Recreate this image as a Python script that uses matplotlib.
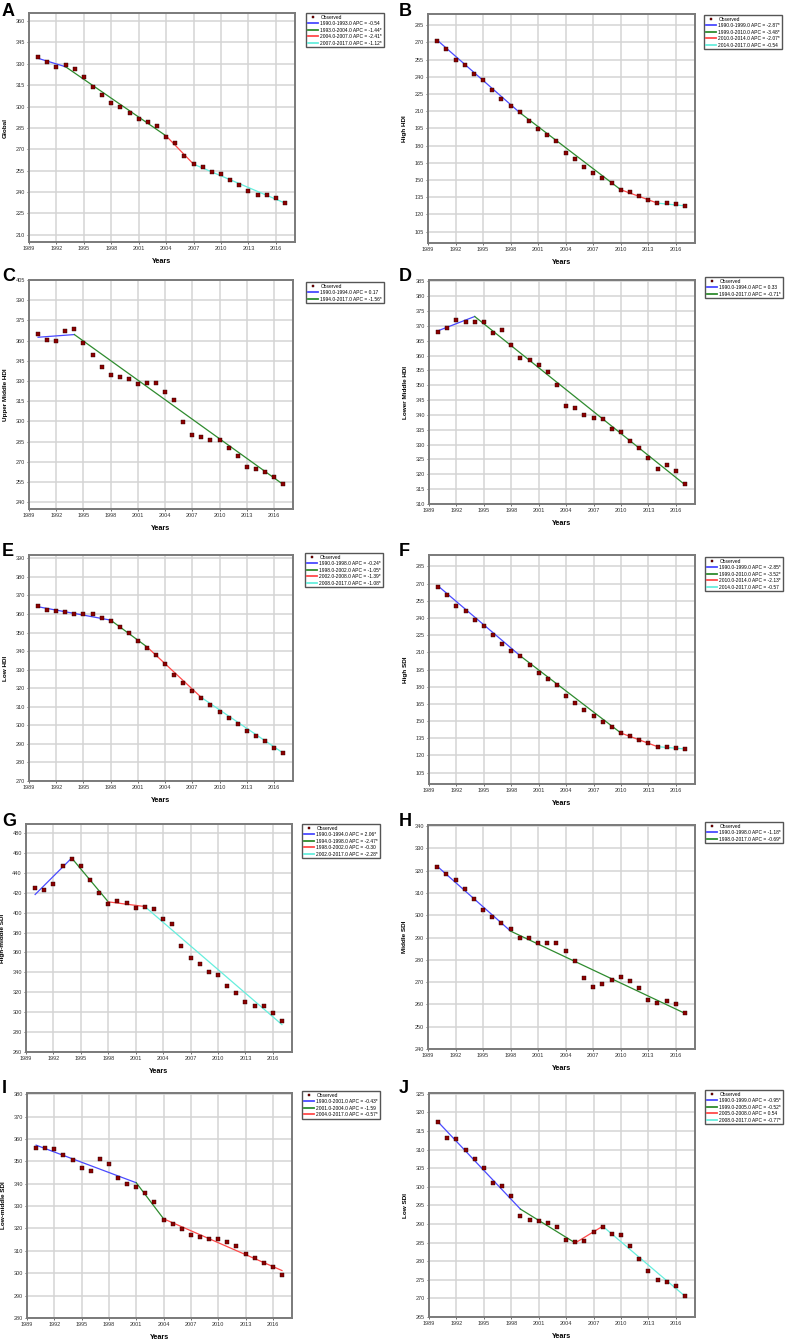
import matplotlib

matplotlib.use("Agg")
import matplotlib.pyplot as plt
from matplotlib.lines import Line2D
from matplotlib.ticker import MultipleLocator

plt.rcParams["font.family"] = ["Liberation Sans", "DejaVu Sans"]

YEARS = [1990, 1991, 1992, 1993, 1994, 1995, 1996, 1997, 1998, 1999,
         2000, 2001, 2002, 2003, 2004, 2005, 2006, 2007, 2008, 2009,
         2010, 2011, 2012, 2013, 2014, 2015, 2016, 2017]
X_TICKS = [1989, 1992, 1995, 1998, 2001, 2004, 2007, 2010, 2013, 2016]

# A - Global
GLOBAL = [335.0, 331.0, 327.9, 328.9, 326.5, 320.9, 313.8, 308.1, 302.5, 299.4,
          295.7, 291.4, 289.1, 286.5, 278.7, 274.2, 265.3, 259.6, 257.7, 254.4,
          252.6, 248.8, 245.3, 240.6, 238.2, 238.2, 236.1, 232.5]
GLOBAL_JP_YEARS = [1990, 1993, 2004, 2007, 2017]
GLOBAL_JP_VALUES = [333.8, 327.9, 279.4, 259.6, 232.3]
GLOBAL_LABELS = ["1990.0-1993.0 APC = -0.54", "1993.0-2004.0 APC = -1.44*",
                 "2004.0-2007.0 APC = -2.41*", "2007.0-2017.0 APC = -1.12*"]

# B - High HDI
HIGH_HDI = [271.3, 264.0, 254.9, 250.2, 242.0, 236.8, 228.3, 220.4, 214.6, 209.3,
            201.4, 194.7, 188.8, 183.9, 173.9, 168.4, 161.6, 156.4, 151.7, 147.0,
            141.5, 139.1, 135.9, 132.7, 129.5, 129.5, 128.6, 127.7]
HIGH_HDI_JP_YEARS = [1990, 1999, 2010, 2014, 2017]
HIGH_HDI_JP_VALUES = [271.9, 208.7, 141.5, 129.8, 127.4]
HIGH_HDI_LABELS = ["1990.0-1999.0 APC = -2.87*", "1999.0-2010.0 APC = -3.48*",
                   "2010.0-2014.0 APC = -2.07*", "2014.0-2017.0 APC = -0.54"]

# C - Upper Middle HDI
UPPER_MID_HDI = [364.8, 360.5, 360.0, 367.5, 368.5, 358.6, 349.6, 340.7, 334.2, 333.3,
                 331.3, 327.8, 328.5, 328.5, 321.6, 315.9, 299.8, 290.3, 288.1, 286.4,
                 286.4, 280.1, 274.2, 266.0, 264.5, 262.8, 259.1, 253.6]
UPPER_MID_HDI_JP_YEARS = [1990, 1994, 2017]
UPPER_MID_HDI_JP_VALUES = [362.5, 364.5, 253.3]
UPPER_MID_HDI_LABELS = ["1990.0-1994.0 APC = 0.17", "1994.0-2017.0 APC = -1.56*"]

# D - Lower Middle HDI
LOWER_MID_HDI = [368.1, 369.3, 372.1, 371.5, 371.3, 371.2, 367.8, 368.7, 363.6, 359.3,
                 358.7, 356.8, 354.5, 350.2, 343.0, 342.4, 339.9, 339.0, 338.8, 335.3,
                 334.4, 331.2, 328.9, 325.4, 321.8, 323.3, 321.1, 316.6]
LOWER_MID_HDI_JP_YEARS = [1990, 1994, 2017]
LOWER_MID_HDI_JP_VALUES = [368.4, 373.2, 316.5]
LOWER_MID_HDI_LABELS = ["1990.0-1994.0 APC = 0.33", "1994.0-2017.0 APC = -0.71*"]

# E - Low HDI
LOW_HDI = [364.5, 362.1, 361.4, 361.0, 360.0, 359.8, 359.8, 357.6, 356.0, 352.8,
           349.9, 345.4, 341.6, 337.7, 332.8, 327.2, 322.9, 318.6, 314.8, 311.2,
           307.3, 303.7, 300.8, 297.2, 294.0, 291.3, 288.0, 285.1]
LOW_HDI_JP_YEARS = [1990, 1998, 2002, 2008, 2017]
LOW_HDI_JP_VALUES = [363.9, 356.7, 342.3, 315.0, 285.1]
LOW_HDI_LABELS = ["1990.0-1998.0 APC = -0.24*", "1998.0-2002.0 APC = -1.05*",
                  "2002.0-2008.0 APC = -1.39*", "2008.0-2017.0 APC = -1.08*"]

# F - High SDI
HIGH_SDI = [267.3, 259.7, 250.7, 246.1, 238.5, 233.0, 224.8, 217.2, 211.4, 206.5,
            198.6, 191.6, 186.4, 181.2, 171.5, 166.0, 159.3, 154.1, 149.4, 144.5,
            139.2, 136.6, 133.7, 130.8, 127.3, 127.0, 126.1, 125.6]
HIGH_SDI_JP_YEARS = [1990, 1999, 2010, 2014, 2017]
HIGH_SDI_JP_VALUES = [267.9, 206.8, 139.5, 127.6, 125.6]
HIGH_SDI_LABELS = ["1990.0-1999.0 APC = -2.85*", "1999.0-2010.0 APC = -3.52*",
                   "2010.0-2014.0 APC = -2.13*", "2014.0-2017.0 APC = -0.57"]

# G - High-middle SDI
HIGH_MID_SDI = [424.6, 422.9, 428.3, 446.7, 454.1, 446.4, 433.0, 419.2, 409.1, 412.1,
                409.5, 404.4, 405.4, 404.1, 394.0, 388.3, 366.8, 354.4, 348.7, 340.3,
                337.2, 326.5, 319.1, 310.4, 306.0, 305.7, 299.3, 291.6]
HIGH_MID_SDI_JP_YEARS = [1990, 1994, 1998, 2002, 2017]
HIGH_MID_SDI_JP_VALUES = [418.2, 454.8, 410.8, 406.1, 287.5]
HIGH_MID_SDI_LABELS = ["1990.0-1994.0 APC = 2.06*", "1994.0-1998.0 APC = -2.47*",
                       "1998.0-2002.0 APC = -0.30", "2002.0-2017.0 APC = -2.28*"]

# H - Middle SDI
MID_SDI = [321.7, 318.4, 315.6, 311.8, 307.5, 302.2, 299.4, 296.7, 293.8, 289.9,
           289.6, 287.4, 287.4, 287.4, 283.8, 279.6, 271.9, 267.7, 269.2, 271.0,
           272.4, 270.6, 267.4, 262.2, 260.8, 261.6, 260.2, 256.2]
MID_SDI_JP_YEARS = [1990, 1998, 2017]
MID_SDI_JP_VALUES = [322.0, 292.9, 256.0]
MID_SDI_LABELS = ["1990.0-1998.0 APC = -1.18*", "1998.0-2017.0 APC = -0.69*"]

# I - Low-middle SDI
LOW_MID_SDI = [355.8, 356.0, 355.7, 353.0, 350.7, 346.9, 345.7, 350.9, 348.8, 342.5,
               340.0, 338.4, 336.0, 331.9, 323.6, 321.8, 319.7, 317.2, 316.1, 315.5,
               315.5, 314.0, 312.2, 308.4, 306.6, 304.5, 302.8, 299.4]
LOW_MID_SDI_JP_YEARS = [1990, 2001, 2004, 2017]
LOW_MID_SDI_JP_VALUES = [357.2, 340.4, 324.3, 301.2]
LOW_MID_SDI_LABELS = ["1990.0-2001.0 APC = -0.43*", "2001.0-2004.0 APC = -1.59",
                      "2004.0-2017.0 APC = -0.57*"]

# J - Low SDI
LOW_SDI = [317.3, 313.0, 312.9, 309.9, 307.4, 305.1, 301.1, 300.2, 297.4, 292.2,
           291.2, 290.7, 290.3, 289.3, 285.7, 285.1, 285.5, 287.8, 289.1, 287.2,
           287.1, 284.0, 280.6, 277.3, 275.0, 274.3, 273.2, 270.6]
LOW_SDI_JP_YEARS = [1990, 1999, 2005, 2008, 2017]
LOW_SDI_JP_VALUES = [317.4, 294.0, 284.9, 289.4, 270.6]
LOW_SDI_LABELS = ["1990.0-1999.0 APC = -0.95*", "1999.0-2005.0 APC = -0.52*",
                  "2005.0-2008.0 APC = 0.54", "2008.0-2017.0 APC = -0.77*"]

PANELS = [
    ("A", "Global", GLOBAL, GLOBAL_JP_YEARS, GLOBAL_JP_VALUES, GLOBAL_LABELS),
    ("B", "High HDI", HIGH_HDI, HIGH_HDI_JP_YEARS, HIGH_HDI_JP_VALUES, HIGH_HDI_LABELS),
    ("C", "Upper Middle HDI", UPPER_MID_HDI, UPPER_MID_HDI_JP_YEARS,
     UPPER_MID_HDI_JP_VALUES, UPPER_MID_HDI_LABELS),
    ("D", "Lower Middle HDI", LOWER_MID_HDI, LOWER_MID_HDI_JP_YEARS,
     LOWER_MID_HDI_JP_VALUES, LOWER_MID_HDI_LABELS),
    ("E", "Low HDI", LOW_HDI, LOW_HDI_JP_YEARS, LOW_HDI_JP_VALUES, LOW_HDI_LABELS),
    ("F", "High SDI", HIGH_SDI, HIGH_SDI_JP_YEARS, HIGH_SDI_JP_VALUES, HIGH_SDI_LABELS),
    ("G", "High-middle SDI", HIGH_MID_SDI, HIGH_MID_SDI_JP_YEARS,
     HIGH_MID_SDI_JP_VALUES, HIGH_MID_SDI_LABELS),
    ("H", "Middle SDI", MID_SDI, MID_SDI_JP_YEARS, MID_SDI_JP_VALUES, MID_SDI_LABELS),
    ("I", "Low-middle SDI", LOW_MID_SDI, LOW_MID_SDI_JP_YEARS,
     LOW_MID_SDI_JP_VALUES, LOW_MID_SDI_LABELS),
    ("J", "Low SDI", LOW_SDI, LOW_SDI_JP_YEARS, LOW_SDI_JP_VALUES, LOW_SDI_LABELS),
]

# y-axis range and tick step per panel
Y_AXES = {
    "A": (205, 365.6, 15), "B": (95, 294.7, 15), "C": (235, 405, 15),
    "D": (310, 385.5, 5), "E": (270, 391.8, 10), "F": (95, 295, 15),
    "G": (260, 489, 20), "H": (240, 340.5, 10), "I": (280, 380.5, 10),
    "J": (265, 325.2, 5),
}

# pixel boxes: axes (left, top, right, bottom), legend top-left, letter top-left
LAYOUT = {
    "A": ((29, 13, 295, 242), (306, 13), (2, 3)),
    "B": ((428, 14, 695, 243), (704, 15), (399, 3)),
    "C": ((29, 280, 293, 509), (306, 282), (2, 268)),
    "D": ((429, 280, 695, 504), (705, 277), (399, 268)),
    "E": ((29, 555, 293, 781), (305, 553), (2, 543)),
    "F": ((429, 555, 695, 784), (705, 557), (399, 543)),
    "G": ((26, 824, 292, 1052), (302, 824), (2, 813)),
    "H": ((428, 825, 695, 1049), (705, 822), (399, 813)),
    "I": ((27, 1093, 292, 1318), (302, 1091), (2, 1080)),
    "J": ((429, 1093, 695, 1317), (705, 1090), (399, 1080)),
}

SEG_COLORS = ["#4a4aff", "#2e8b2e", "#ff4a4a", "#66eedd"]
W, H = 786, 1339

fig = plt.figure(figsize=(W / 100, H / 100), dpi=100)

for letter, ylabel, obs, jp_years, jp_vals, labels in PANELS:
    (l, t, r, b), (lx, ly), (tx, ty) = LAYOUT[letter]
    ax = fig.add_axes([l / W, 1 - b / H, (r - l) / W, (b - t) / H])
    ymin, ymax, ystep = Y_AXES[letter]

    handles = [Line2D([], [], ls="none", marker="s", ms=2.0, mfc="#8b0000",
                      mec="#2a0000", mew=0.3, label="Observed")]
    for i, lab in enumerate(labels):
        ax.plot(jp_years[i:i + 2], jp_vals[i:i + 2], color=SEG_COLORS[i], lw=0.9, zorder=3)
        handles.append(Line2D([], [], color=SEG_COLORS[i], lw=1.3, label=lab))
    ax.plot(YEARS, obs, ls="none", marker="s", ms=2.2, mfc="#8b0000",
            mec="#2a0000", mew=0.3, zorder=4)

    ax.set_xlim(1989, 2018.1)
    ax.set_ylim(ymin, ymax)
    ax.set_xticks(X_TICKS)
    ax.yaxis.set_major_locator(MultipleLocator(ystep))
    ax.tick_params(labelsize=4.0, length=1.5, width=0.5, pad=1.5, colors="#333333")
    ax.grid(True, color="#d4d4d4", lw=1.1)
    ax.set_axisbelow(True)
    for sp in ax.spines.values():
        sp.set_color("#7a7a7a")
        sp.set_linewidth(1.4)

    ax.set_ylabel(ylabel, fontsize=4.6, fontweight="bold")
    ax.yaxis.set_label_coords(-21 / (r - l), 0.5)
    ax.set_xlabel("Years", fontsize=5.2, fontweight="bold")
    ax.xaxis.set_label_coords(0.5, -16 / (b - t))

    fig.legend(handles=handles, loc="upper left",
               bbox_to_anchor=(lx / W, 1 - ly / H), fontsize=3.5,
               frameon=True, fancybox=False, edgecolor="#555555",
               framealpha=1, borderpad=0.35, labelspacing=0.3,
               handlelength=2.2, handletextpad=0.4, borderaxespad=0)

    fig.text(tx / W, 1 - ty / H, letter, fontsize=13, fontweight="bold",
             ha="left", va="top")

fig.savefig("out.png", dpi=100)
